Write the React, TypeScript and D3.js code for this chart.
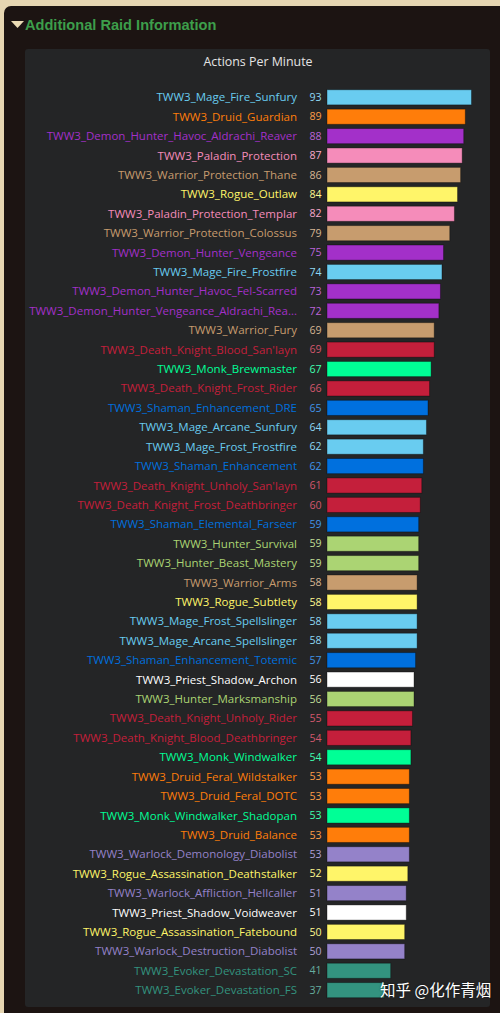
import React from "react";
import * as d3 from "d3";

const specs: string[] = [
  "TWW3_Mage_Fire_Sunfury",
  "TWW3_Druid_Guardian",
  "TWW3_Demon_Hunter_Havoc_Aldrachi_Reaver",
  "TWW3_Paladin_Protection",
  "TWW3_Warrior_Protection_Thane",
  "TWW3_Rogue_Outlaw",
  "TWW3_Paladin_Protection_Templar",
  "TWW3_Warrior_Protection_Colossus",
  "TWW3_Demon_Hunter_Vengeance",
  "TWW3_Mage_Fire_Frostfire",
  "TWW3_Demon_Hunter_Havoc_Fel-Scarred",
  "TWW3_Demon_Hunter_Vengeance_Aldrachi_Reaver",
  "TWW3_Warrior_Fury",
  "TWW3_Death_Knight_Blood_San'layn",
  "TWW3_Monk_Brewmaster",
  "TWW3_Death_Knight_Frost_Rider",
  "TWW3_Shaman_Enhancement_DRE",
  "TWW3_Mage_Arcane_Sunfury",
  "TWW3_Mage_Frost_Frostfire",
  "TWW3_Shaman_Enhancement",
  "TWW3_Death_Knight_Unholy_San'layn",
  "TWW3_Death_Knight_Frost_Deathbringer",
  "TWW3_Shaman_Elemental_Farseer",
  "TWW3_Hunter_Survival",
  "TWW3_Hunter_Beast_Mastery",
  "TWW3_Warrior_Arms",
  "TWW3_Rogue_Subtlety",
  "TWW3_Mage_Frost_Spellslinger",
  "TWW3_Mage_Arcane_Spellslinger",
  "TWW3_Shaman_Enhancement_Totemic",
  "TWW3_Priest_Shadow_Archon",
  "TWW3_Hunter_Marksmanship",
  "TWW3_Death_Knight_Unholy_Rider",
  "TWW3_Death_Knight_Blood_Deathbringer",
  "TWW3_Monk_Windwalker",
  "TWW3_Druid_Feral_Wildstalker",
  "TWW3_Druid_Feral_DOTC",
  "TWW3_Monk_Windwalker_Shadopan",
  "TWW3_Druid_Balance",
  "TWW3_Warlock_Demonology_Diabolist",
  "TWW3_Rogue_Assassination_Deathstalker",
  "TWW3_Warlock_Affliction_Hellcaller",
  "TWW3_Priest_Shadow_Voidweaver",
  "TWW3_Rogue_Assassination_Fatebound",
  "TWW3_Warlock_Destruction_Diabolist",
  "TWW3_Evoker_Devastation_SC",
  "TWW3_Evoker_Devastation_FS",
];

const apm: number[] = [
  93, 89, 88, 87, 86, 84, 82, 79, 75, 74, 73, 72, 69, 69, 67, 66, 65, 64, 62, 62,
  61, 60, 59, 59, 59, 58, 58, 58, 58, 57, 56, 56, 55, 54, 54, 53, 53, 53, 53, 53,
  52, 51, 51, 50, 50, 41, 37,
];

const headerTitle = "Additional Raid Information";
const chartTitle = "Actions Per Minute";
const watermark = "知乎 @化作青烟";

const classColors: Record<string, string> = {
  Mage: "#69ccf0",
  Druid: "#ff7d0a",
  DemonHunter: "#a330c9",
  Paladin: "#f58cba",
  Warrior: "#c79c6e",
  Rogue: "#fff569",
  DeathKnight: "#c41f3b",
  Monk: "#00ff96",
  Shaman: "#0070de",
  Hunter: "#abd473",
  Priest: "#ffffff",
  Warlock: "#9482c9",
  Evoker: "#33937f",
};

function classOf(name: string): string {
  if (name.includes("Demon_Hunter")) return "DemonHunter";
  if (name.includes("Death_Knight")) return "DeathKnight";
  return name.split("_")[1];
}

function displayName(name: string): string {
  return name.length > 40 ? name.slice(0, 40) + "..." : name;
}

const W = 500;
const H = 1013;
const FONT = "'Open Sans', 'DejaVu Sans', sans-serif";

export default function App() {
  const step = 19.41;
  const y0 = 87.6;
  const y = d3
    .scaleBand<string>()
    .domain(specs)
    .range([y0, y0 + specs.length * step])
    .paddingInner(0.22)
    .paddingOuter(0.11);
  const x = d3.scaleLinear().domain([0, d3.max(apm) as number]).range([327, 471.5]);

  return (
    <svg
      width={W}
      height={H}
      style={{ position: "absolute", left: 0, top: 0, display: "block" }}
      xmlns="http://www.w3.org/2000/svg"
    >
      <rect x={0} y={0} width={W} height={H} fill="#e6d6b2" />
      <rect x={4} y={6} width={W + 10} height={H + 10} rx={7} fill="#1c1412" />
      <path d="M11,21 L24,21 L17.5,28 Z" fill="#eadbb4" />
      <text
        x={25}
        y={30}
        fill="#3d9e4b"
        fontFamily="'Liberation Sans', Arial, sans-serif"
        fontWeight="bold"
        fontSize={14.6}
      >
        {headerTitle}
      </text>
      <rect x={25} y={49} width={465} height={958} rx={3} fill="#242526" />
      <text
        x={258}
        y={66}
        textAnchor="middle"
        fill="#e4e4e4"
        fontFamily={FONT}
        fontSize={12.4}
      >
        {chartTitle}
      </text>
      <g fontFamily={FONT}>
        {specs.map((s, i) => {
          const c = classColors[classOf(s)];
          const yy = y(s) as number;
          const cy = yy + y.bandwidth() / 2;
          return (
            <g key={s}>
              <text
                x={297}
                y={cy}
                dy="0.35em"
                textAnchor="end"
                fill={c}
                fontSize={11.5}
              >
                {displayName(s)}
              </text>
              <text
                x={321.5}
                y={cy}
                dy="0.35em"
                textAnchor="end"
                fill={d3.interpolateRgb(c, "#ffffff")(0.25)}
                fontSize={10.6}
              >
                {apm[i]}
              </text>
              <rect
                x={x(0)}
                y={yy}
                width={x(apm[i]) - x(0)}
                height={y.bandwidth()}
                fill={c}
                stroke="rgba(0,0,0,0.35)"
                strokeWidth={1}
              />
            </g>
          );
        })}
      </g>
      <text
        x={380}
        y={996}
        fill="#ffffff"
        fontFamily="'Noto Sans CJK SC', sans-serif"
        fontSize={15.5}
        style={{ textShadow: "0 0 2px rgba(0,0,0,0.6)" }}
      >
        {watermark}
      </text>
    </svg>
  );
}
